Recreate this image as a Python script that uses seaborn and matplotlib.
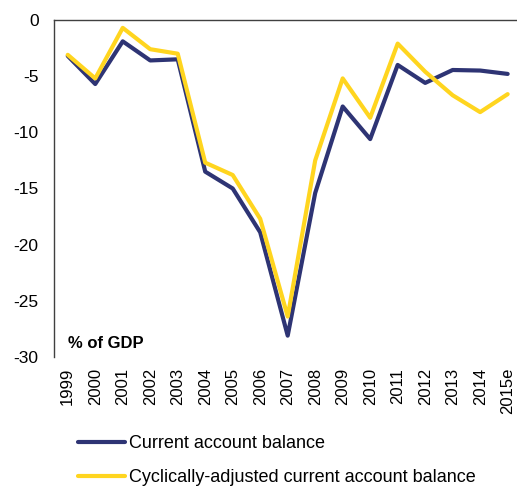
import matplotlib
matplotlib.use("Agg")
import matplotlib.pyplot as plt
import pandas as pd
import seaborn as sns

years = ["1999", "2000", "2001", "2002", "2003", "2004", "2005", "2006", "2007",
         "2008", "2009", "2010", "2011", "2012", "2013", "2014", "2015e"]
current_account = [-3.2, -5.7, -1.9, -3.6, -3.5, -13.5, -15.0, -18.9, -28.1,
                   -15.4, -7.7, -10.6, -4.0, -5.6, -4.45, -4.5, -4.8]
cyclically_adjusted = [-3.1, -5.2, -0.7, -2.6, -3.0, -12.7, -13.8, -17.7, -26.4,
                       -12.5, -5.2, -8.7, -2.1, -4.6, -6.7, -8.2, -6.6]
series_names = ["Current account balance", "Cyclically-adjusted current account balance"]
colors = ["#2E3474", "#FFD51F"]

sns.set_style("white")
plt.rcParams["font.family"] = ["Liberation Sans", "DejaVu Sans"]
plt.rcParams["axes.unicode_minus"] = False
plt.rcParams["text.color"] = "black"
plt.rcParams["xtick.color"] = "black"
plt.rcParams["ytick.color"] = "black"

df = pd.DataFrame({
    "year": years * 2,
    "value": current_account + cyclically_adjusted,
    "series": [series_names[0]] * len(years) + [series_names[1]] * len(years),
})

fig = plt.figure(figsize=(5.17, 4.87), dpi=100)
ax = fig.add_axes([54 / 517, 1 - 357 / 487, 463 / 517, 337 / 487])

sns.lineplot(data=df, x="year", y="value", hue="series", palette=colors,
             linewidth=3, ax=ax, legend=False, sort=False)

ax.set_xlim(-0.5, 16.34)
ax.set_ylim(-30, 0)
ax.set_yticks(range(-30, 1, 5))
ax.set_xlabel("")
ax.set_ylabel("")
ax.tick_params(axis="y", length=0, pad=11, labelsize=12.5)
ax.tick_params(axis="x", length=0, pad=8, labelsize=12, rotation=90)

for side in ["right", "bottom"]:
    ax.spines[side].set_visible(False)
for side in ["top", "left"]:
    ax.spines[side].set_color("#404040")
    ax.spines[side].set_linewidth(1)

ax.text(0.03, 0.04, "% of GDP", transform=ax.transAxes, fontsize=12,
        fontweight="bold", ha="left", va="center")

handles = [plt.Line2D([], [], color=c, linewidth=3) for c in colors]
fig.legend(handles, series_names, loc="upper left",
           bbox_to_anchor=(78 / 517, 1 - 435 / 487), frameon=False,
           fontsize=13, handlelength=2.6, handletextpad=0.2,
           labelspacing=0.95, borderpad=0, borderaxespad=0)

fig.savefig("out.png", dpi=100, facecolor="white")
